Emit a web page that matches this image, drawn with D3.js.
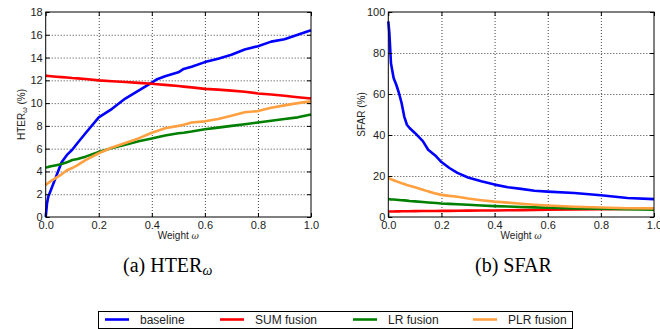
<html>
<head>
<meta charset="utf-8">
<title>HTER / SFAR</title>
<script src="https://cdn.jsdelivr.net/npm/d3@7"></script>
<style>
  body { margin: 0; background: #fff; }
  .tick text { font-family: "Liberation Sans", Arial, sans-serif; font-size: 11px; fill: #222; }
  .grid line { stroke: #444; stroke-dasharray: 1,2; }
  .grid path { display: none; }
</style>
</head>
<body>
<svg id="svg" width="660" height="329"></svg>
<script>
// weights sampled for panel (a)
var weightA = [0, 0.005, 0.01, 0.02, 0.04, 0.06, 0.08, 0.1, 0.12, 0.15, 0.2, 0.25, 0.3, 0.35, 0.4, 0.42, 0.45, 0.5, 0.52, 0.55, 0.6, 0.65, 0.7, 0.75, 0.8, 0.85, 0.9, 0.95, 1.0];
var hterBaseline = [0, 1.2, 1.8, 2.4, 3.6, 4.8, 5.45, 5.9, 6.5, 7.35, 8.75, 9.5, 10.4, 11.1, 11.8, 12.1, 12.35, 12.7, 13.0, 13.2, 13.6, 13.9, 14.25, 14.7, 15.0, 15.4, 15.6, 16.0, 16.4];
var hterSum = [12.4, 12.39, 12.38, 12.36, 12.32, 12.28, 12.25, 12.2, 12.17, 12.12, 12.0, 11.92, 11.85, 11.78, 11.7, 11.66, 11.6, 11.5, 11.45, 11.38, 11.25, 11.18, 11.1, 11.0, 10.85, 10.75, 10.65, 10.52, 10.4];
var hterLR = [4.35, 4.37, 4.4, 4.45, 4.55, 4.65, 4.8, 5.0, 5.1, 5.3, 5.7, 6.05, 6.35, 6.65, 6.9, 7.0, 7.15, 7.35, 7.4, 7.5, 7.7, 7.85, 8.0, 8.15, 8.3, 8.45, 8.6, 8.75, 9.0];
var hterPLR = [2.8, 2.9, 3.0, 3.15, 3.45, 3.75, 4.1, 4.3, 4.55, 5.0, 5.6, 6.1, 6.5, 6.9, 7.4, 7.55, 7.8, 8.0, 8.1, 8.3, 8.4, 8.6, 8.9, 9.2, 9.3, 9.6, 9.8, 10.0, 10.15];

// weights sampled for panel (b)
var weightB = [0, 0.004, 0.01, 0.02, 0.03, 0.04, 0.05, 0.06, 0.07, 0.08, 0.1, 0.13, 0.15, 0.18, 0.2, 0.23, 0.26, 0.3, 0.35, 0.4, 0.45, 0.5, 0.55, 0.6, 0.7, 0.8, 0.9, 1.0];
var sfarBaseline = [95.4, 89.8, 75, 67.8, 64.5, 60.5, 55.6, 49, 45, 43.4, 41, 37, 32.8, 29.6, 26.8, 23.9, 21.5, 19.3, 17.4, 15.8, 14.5, 13.7, 12.8, 12.4, 11.7, 10.6, 9.3, 8.7];
var sfarSum = [2.7, 2.7, 2.7, 2.7, 2.75, 2.75, 2.8, 2.8, 2.8, 2.8, 2.85, 2.9, 2.9, 2.95, 3.0, 3.0, 3.05, 3.1, 3.15, 3.2, 3.3, 3.35, 3.4, 3.5, 3.65, 3.8, 3.9, 4.0];
var sfarLR = [8.7, 8.7, 8.6, 8.5, 8.4, 8.3, 8.2, 8.1, 8.0, 7.8, 7.6, 7.3, 7.1, 6.8, 6.6, 6.4, 6.2, 6.0, 5.6, 5.3, 5.1, 4.9, 4.7, 4.5, 4.2, 4.0, 3.8, 3.5];
var sfarPLR = [19, 18.8, 18.4, 17.9, 17.4, 17.0, 16.5, 16.1, 15.6, 15.2, 14.5, 13.3, 12.5, 11.4, 10.8, 10.3, 9.9, 9.0, 8.2, 7.5, 7.0, 6.5, 6.0, 5.6, 5.0, 4.6, 4.3, 4.2];

var xTicks = [0, 0.2, 0.4, 0.6, 0.8, 1.0];
var hterTicks = [0, 2, 4, 6, 8, 10, 12, 14, 16, 18];
var sfarTicks = [0, 20, 40, 60, 80, 100];

var seriesNames = ["baseline", "SUM fusion", "LR fusion", "PLR fusion"];
var seriesColors = ["#0000ff", "#ff0000", "#008000", "#ffa040"];

var svg = d3.select("#svg");
var top_ = 12, bottom_ = 217;

function panel(left, right, weights, series, yMax, yTicks, yLabel, sub, labelX) {
  var x = d3.scaleLinear().domain([0, 1]).range([left, right]);
  var y = d3.scaleLinear().domain([0, yMax]).range([bottom_, top_]);
  var g = svg.append("g");

  // grid
  g.append("g").attr("class", "grid").attr("transform", "translate(0," + bottom_ + ")")
    .call(d3.axisBottom(x).tickValues(xTicks.slice(1, -1)).tickSize(-(bottom_ - top_)).tickFormat(""));
  g.append("g").attr("class", "grid").attr("transform", "translate(" + left + ",0)")
    .call(d3.axisLeft(y).tickValues(yTicks.slice(1, -1)).tickSize(-(right - left)).tickFormat(""));

  // lines
  series.forEach(function (vals, k) {
    var line = d3.line().x(function (d, i) { return x(weights[i]); }).y(function (d) { return y(d); });
    g.append("path").attr("d", line(vals))
      .attr("fill", "none").attr("stroke", seriesColors[k]).attr("stroke-width", 2.6)
      .attr("stroke-linejoin", "round");
  });

  // axes with inward ticks
  var ax = g.append("g").attr("transform", "translate(0," + bottom_ + ")")
    .call(d3.axisBottom(x).tickValues(xTicks).tickSize(-4).tickPadding(4).tickFormat(d3.format(".1f")));
  var ay = g.append("g").attr("transform", "translate(" + left + ",0)")
    .call(d3.axisLeft(y).tickValues(yTicks).tickSize(-4).tickPadding(3).tickFormat(d3.format("d")));
  g.append("g").attr("transform", "translate(0," + top_ + ")")
    .call(d3.axisTop(x).tickValues(xTicks).tickSize(-4).tickFormat(""));
  g.append("g").attr("transform", "translate(" + right + ",0)")
    .call(d3.axisRight(y).tickValues(yTicks).tickSize(-4).tickFormat(""));
  g.selectAll(".domain").attr("stroke", "none");
  g.selectAll(".tick line").filter(function () { return !this.parentNode.parentNode.classList.contains("grid"); })
    .attr("stroke", "#000");

  g.append("rect").attr("x", left).attr("y", top_).attr("width", right - left).attr("height", bottom_ - top_)
    .attr("fill", "none").attr("stroke", "#000").attr("stroke-width", 1);

  // x label
  var xl = g.append("text").attr("x", (left + right) / 2).attr("y", 239)
    .attr("text-anchor", "middle").attr("font-family", "Liberation Sans, Arial, sans-serif")
    .attr("font-size", 10).attr("fill", "#222");
  xl.append("tspan").text("Weight ");
  xl.append("tspan").attr("font-style", "italic").attr("font-family", "DejaVu Serif, serif").attr("font-size", 9).text("ω");

  // y label
  var yl = g.append("text").attr("transform", "translate(" + labelX + "," + ((top_ + bottom_) / 2) + ") rotate(-90)")
    .attr("text-anchor", "middle").attr("font-family", "Liberation Sans, Arial, sans-serif")
    .attr("font-size", 10).attr("fill", "#222");
  yl.append("tspan").text(yLabel);
  if (sub) {
    yl.append("tspan").attr("font-size", 7).attr("font-style", "italic").attr("dy", 2).text("ω");
    yl.append("tspan").attr("dy", -2).text(" (%)");
  } else {
    yl.append("tspan").text(" (%)");
  }
}

panel(45.7, 311, weightA, [hterBaseline, hterSum, hterLR, hterPLR], 18, hterTicks, "HTER", true, 25);
panel(388.3, 654, weightB, [sfarBaseline, sfarSum, sfarLR, sfarPLR], 100, sfarTicks, "SFAR", false, 365);

// captions
var capA = svg.append("text").attr("x", 123).attr("y", 272)
  .attr("font-family", "Liberation Serif, Times New Roman, serif").attr("font-size", 20).attr("fill", "#000");
capA.append("tspan").text("(a) HTER");
capA.append("tspan").attr("font-size", 14).attr("font-style", "italic").attr("dy", 3).text("ω");
svg.append("text").attr("x", 475).attr("y", 272)
  .attr("font-family", "Liberation Serif, Times New Roman, serif").attr("font-size", 20).attr("fill", "#000")
  .text("(b) SFAR");

// legend
var legX = [105, 220, 353, 473];
var leg = svg.append("g");
leg.append("rect").attr("x", 98.5).attr("y", 311.5).attr("width", 474).attr("height", 17)
  .attr("fill", "#fff").attr("stroke", "#000").attr("stroke-width", 1);
leg.selectAll(".item").data(seriesNames).enter().append("g").attr("class", "item")
  .each(function (d, i) {
    var it = d3.select(this);
    it.append("line").attr("x1", legX[i]).attr("x2", legX[i] + 24).attr("y1", 319.5).attr("y2", 319.5)
      .attr("stroke", seriesColors[i]).attr("stroke-width", 2.6);
    it.append("text").attr("x", legX[i] + 35).attr("y", 323.5).text(d)
      .attr("font-family", "Liberation Sans, Arial, sans-serif").attr("font-size", 12).attr("fill", "#222");
  });
</script>
</body>
</html>
